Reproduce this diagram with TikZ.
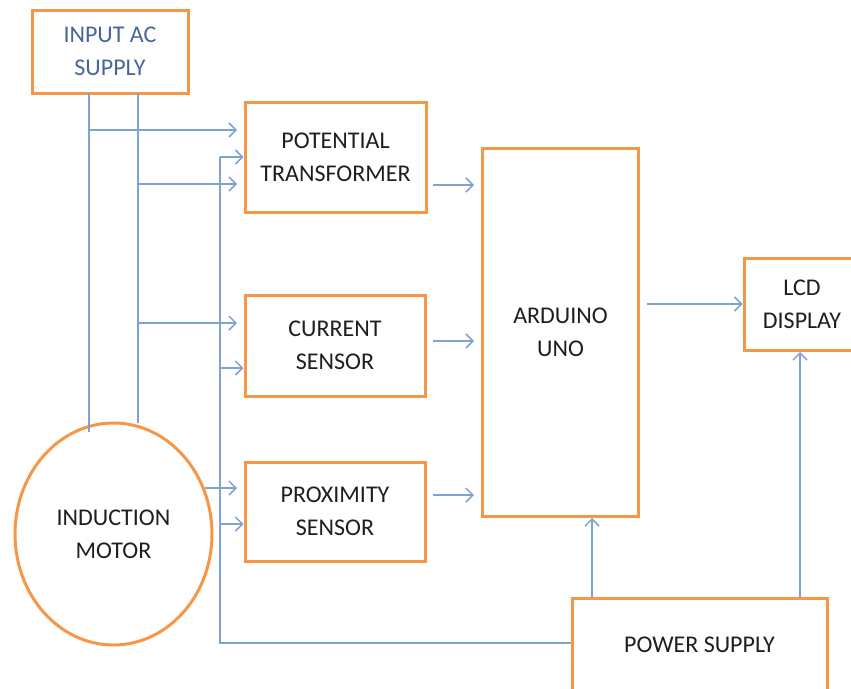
\documentclass[tikz,border=0pt]{standalone}
\usepackage{fontspec}
\setmainfont{Carlito}
\usetikzlibrary{arrows.meta,shapes.geometric}
\definecolor{boxorange}{HTML}{F79646}
\definecolor{lineblue}{HTML}{7FA3D1}
\definecolor{inblue}{HTML}{47669A}
\definecolor{txt}{HTML}{1E1E1E}
\begin{document}
\begin{tikzpicture}[x=1pt,y=-1pt,
  every node/.style={font=\fontsize{24}{33}\selectfont, text=txt, align=center, inner sep=0pt},
  blk/.style={draw=boxorange, line width=3pt, rectangle},
  wire/.style={draw=lineblue, line width=1.5pt},
  arr/.style={wire, -{Straight Barb[length=7pt,width=14pt,line width=1.5pt]}}]
\useasboundingbox (0,0) rectangle (851,688);
\node[blk, minimum width=156, minimum height=83, text=inblue] (inp) at (110,51.5) {INPUT AC\\SUPPLY};
\node[blk, minimum width=181, minimum height=110] (pt) at (335.5,157) {POTENTIAL\\TRANSFORMER};
\node[blk, minimum width=180, minimum height=101] (cs) at (335,345.5) {CURRENT\\SENSOR};
\node[blk, minimum width=180, minimum height=99] (px) at (335,511.5) {PROXIMITY\\SENSOR};
\node[blk, minimum width=156, minimum height=368] (ard) at (560.5,332) {ARDUINO\\UNO};
\node[blk, minimum width=116, minimum height=92] (lcd) at (802,304) {LCD\\DISPLAY};
\node[blk, minimum width=255, minimum height=94] (ps) at (699.5,645) {POWER SUPPLY};
\node[draw=boxorange, line width=3pt, ellipse, minimum width=197, minimum height=222] (mot) at (113.5,534) {INDUCTION\\MOTOR};
% supply lines
\coordinate (a1) at (89,93);
\coordinate (a2) at (138,93);
\draw[wire] (a1) -- (89,432);
\draw[wire] (a2) -- (138,423);
\draw[arr] (89,130) -- (237,130);
\draw[arr] (138,184) -- (237,184);
\draw[arr] (138,323) -- (237,323);
\draw[arr] (205,488) -- (237,488);
% power supply bus
\draw[wire] (ps.west |- 0,643) -- (220,643) -- (220,157);
\draw[arr] (220,157) -- (pt.west |- 0,157);
\draw[arr] (220,368) -- (cs.west |- 0,368);
\draw[arr] (220,524) -- (px.west |- 0,524);
% to arduino
\draw[arr] (433,185) -- (474,185);
\draw[arr] (433,341) -- (474,341);
\draw[arr] (433,495) -- (474,495);
\draw[arr] (647,304) -- (lcd.west);
\draw[arr] (592,598) -- (592,518);
\draw[arr] (800,598) -- (800,352);
\end{tikzpicture}
\end{document}
